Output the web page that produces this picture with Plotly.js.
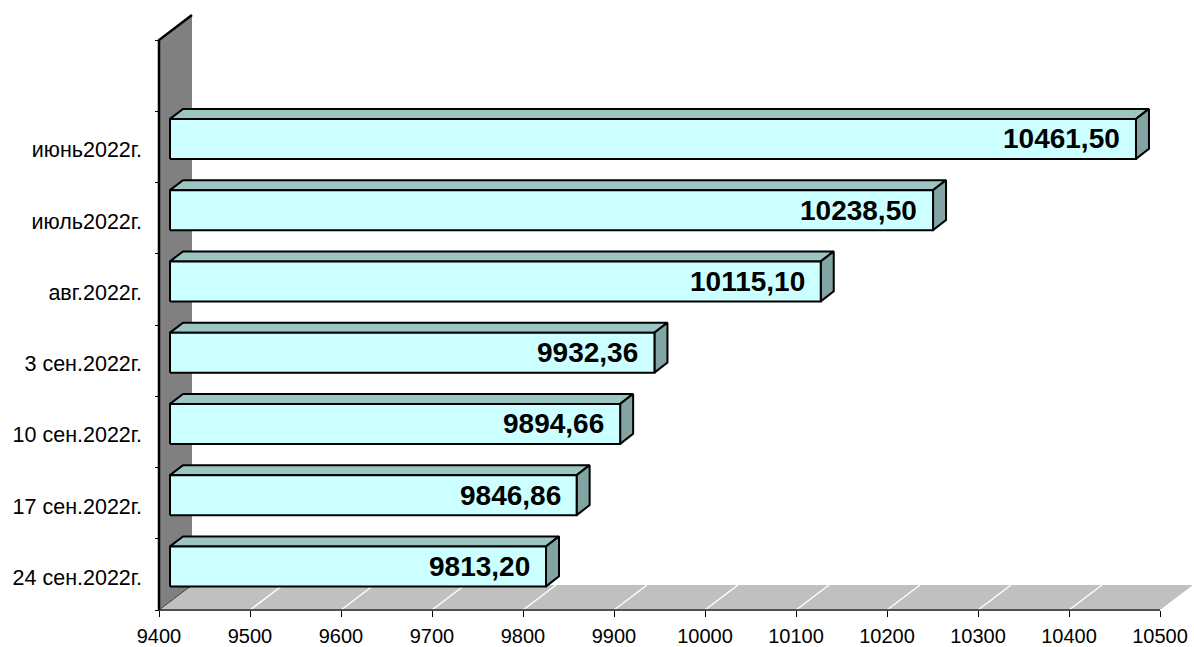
<!DOCTYPE html>
<html>
<head>
<meta charset="utf-8">
<script src="https://cdn.plot.ly/plotly-3.0.1.min.js"></script>
<style>html,body{margin:0;padding:0;background:#fff;}#chart{width:1194px;height:647px;}</style>
</head>
<body>
<div id="chart"></div>
<script>
// ---- data ----
const categories = ["июнь2022г.", "июль2022г.", "авг.2022г.", "3 сен.2022г.", "10 сен.2022г.", "17 сен.2022г.", "24 сен.2022г."];
const values = [10461.50, 10238.50, 10115.10, 9932.36, 9894.66, 9846.86, 9813.20];
const xTickVals = [9400, 9500, 9600, 9700, 9800, 9900, 10000, 10100, 10200, 10300, 10400, 10500];
const xTickText = ["9400", "9500", "9600", "9700", "9800", "9900", "10000", "10100", "10200", "10300", "10400", "10500"];

// ---- layout geometry ----
const W = 1194, H = 647;
const marginB = 20;
const plotH = H - marginB;
const xMin = xTickVals[0], xMax = xTickVals[xTickVals.length - 1];
const axisLeftPx = 159, axisRightPx = 1160, floorPx = 610, bandPx = 71.25;
const kx = (axisRightPx - axisLeftPx) / (xMax - xMin);
const ux = 1 / kx, uy = 1 / bandPx;
const xRange = [xMin - axisLeftPx * ux, xMin + (W - axisLeftPx) * ux];
const yRange = [(floorPx - plotH) * uy, floorPx * uy];
const nBands = categories.length + 1;

// 3D offsets (pixels converted to data units)
const depthX = 33 * ux, depthY = 25 * uy;      // wall / floor depth
const frontX = 11 * ux, frontY = 8 * uy;       // bar front plane
const barDX = 13 * ux, barDY = 10 * uy;        // bar depth
const halfH = 20 * uy;                          // half bar height

const traces = [];
// wall
traces.push({x: [xMin, xMin, xMin + depthX, xMin + depthX, xMin], y: [0, nBands, nBands + depthY, depthY, 0],
  mode: 'lines', fill: 'toself', fillcolor: '#808080', line: {width: 0, color: '#808080'}, hoverinfo: 'skip'});
// floor
traces.push({x: [xMin, xMax, xMax + depthX, xMin + depthX, xMin], y: [0, 0, depthY, depthY, 0],
  mode: 'lines', fill: 'toself', fillcolor: '#C0C0C0', line: {width: 0, color: '#C0C0C0'}, hoverinfo: 'skip'});
// floor gridlines
const gx = [], gy = [];
xTickVals.slice(1, -1).forEach(v => { gx.push(v, v + depthX, null); gy.push(0, depthY, null); });
traces.push({x: gx, y: gy, mode: 'lines', line: {color: '#FFFFFF', width: 1.5}, hoverinfo: 'skip'});
// floor/wall divide
traces.push({x: [xMin, xMin + depthX], y: [0, depthY], mode: 'lines', line: {color: '#404040', width: 1}, hoverinfo: 'skip'});
// floor front edge (x axis line)
traces.push({x: [xMin, xMax], y: [0, 0], mode: 'lines', line: {color: '#505050', width: 2}, hoverinfo: 'skip'});
// wall front edge and top edge
traces.push({x: [xMin, xMin, xMin + depthX], y: [0, nBands, nBands + depthY], mode: 'lines', line: {color: '#000000', width: 2.5}, hoverinfo: 'skip'});

// bars
const fx = [], fy = [], tx = [], ty = [], sx = [], sy = [];
const annotations = [];
values.forEach((v, i) => {
  const band = categories.length - 1 - i;
  const c = band + 0.5 + frontY;
  const x0 = xMin + frontX, x1 = v + frontX;
  fx.push(x0, x1, x1, x0, x0, null); fy.push(c - halfH, c - halfH, c + halfH, c + halfH, c - halfH, null);
  tx.push(x0, x1, x1 + barDX, x0 + barDX, x0, null); ty.push(c + halfH, c + halfH, c + halfH + barDY, c + halfH + barDY, c + halfH, null);
  sx.push(x1, x1 + barDX, x1 + barDX, x1, x1, null); sy.push(c - halfH, c - halfH + barDY, c + halfH + barDY, c + halfH, c - halfH, null);
  annotations.push({x: v, y: c, xref: 'x', yref: 'y', xanchor: 'right', yanchor: 'middle', xshift: -3, yshift: 0,
    showarrow: false, text: v.toFixed(2).replace('.', ','),
    font: {family: 'Liberation Sans, Arial, sans-serif', size: 28, weight: 'bold', color: '#000'}});
});
const outline = {color: '#000000', width: 2};
traces.push({x: tx, y: ty, mode: 'lines', fill: 'toself', fillcolor: '#9CC6C3', line: outline, hoverinfo: 'skip'});
traces.push({x: sx, y: sy, mode: 'lines', fill: 'toself', fillcolor: '#82A4A2', line: outline, hoverinfo: 'skip'});
traces.push({x: fx, y: fy, mode: 'lines', fill: 'toself', fillcolor: '#CCFFFF', line: outline, hoverinfo: 'skip'});

// invisible trace for label axis
traces.push({x: [xMin], y: [0.5], yaxis: 'y2', mode: 'markers', marker: {opacity: 0}, hoverinfo: 'skip'});

const labelVals = categories.map((c, i) => categories.length - 1 - i + 0.5 - 0.04);
const font = {family: 'Liberation Sans, Arial, sans-serif', color: '#000'};

const layout = {
  width: W, height: H,
  margin: {l: 0, r: 0, t: 0, b: marginB},
  paper_bgcolor: '#fff', plot_bgcolor: 'rgba(0,0,0,0)',
  showlegend: false, hovermode: false,
  xaxis: {range: xRange, anchor: 'free', position: (plotH - floorPx) / plotH,
    tickmode: 'array', tickvals: xTickVals, ticktext: xTickText,
    ticks: 'outside', ticklen: 6, tickwidth: 1, tickcolor: '#000', ticklabelstandoff: 2,
    showgrid: false, zeroline: false, showline: false, fixedrange: true,
    tickfont: Object.assign({size: 20}, font)},
  yaxis: {range: yRange, anchor: 'free', position: axisLeftPx / W,
    tickmode: 'array', tickvals: Array.from({length: nBands + 1}, (_, k) => k),
    ticks: 'outside', ticklen: 4, tickwidth: 1, tickcolor: '#000', showticklabels: false,
    showgrid: false, zeroline: false, showline: false, fixedrange: true},
  yaxis2: {range: yRange, overlaying: 'y', anchor: 'free', position: axisLeftPx / W, side: 'left',
    tickmode: 'array', tickvals: labelVals, ticktext: categories, ticks: '',
    ticklabelstandoff: 17, showgrid: false, zeroline: false, showline: false, fixedrange: true,
    tickfont: Object.assign({size: 21.5}, font)},
  annotations: annotations
};

Plotly.newPlot('chart', traces, layout, {displayModeBar: false, staticPlot: true});
</script>
</body>
</html>
